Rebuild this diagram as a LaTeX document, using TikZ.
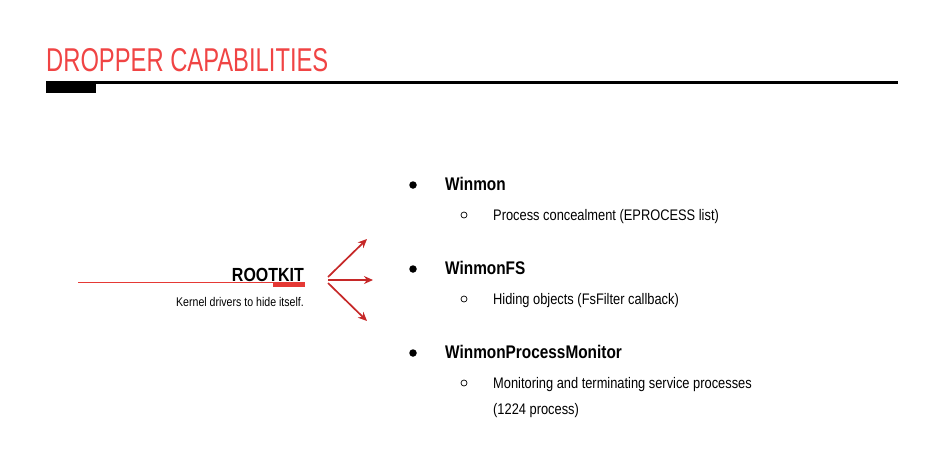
\documentclass[tikz,border=0pt]{standalone}
\usepackage{fontspec}
\setmainfont{Liberation Sans}[FakeStretch=0.84]
\newfontfamily\titleface{Liberation Sans}[FakeStretch=0.72]
\usetikzlibrary{arrows.meta}
\definecolor{titlered}{HTML}{F04444}
\definecolor{arrowred}{HTML}{C62828}
\definecolor{linered}{HTML}{E53935}
\tikzset{
  heading/.style={anchor=base west, inner sep=0pt, text=titlered, font=\titleface\fontsize{33}{36}\selectfont},
  itemhead/.style={anchor=base west, inner sep=0pt, font=\fontsize{18.3}{20}\selectfont\bfseries},
  itemtext/.style={anchor=base west, inner sep=0pt, font=\fontsize{15.3}{18}\selectfont},
  dotbullet/.style={circle, fill=black, inner sep=0pt, minimum size=7.5pt},
  ringbullet/.style={circle, draw=black, line width=0.7pt, inner sep=0pt, minimum size=6pt},
  branch/.style={draw=arrowred, line width=1.7pt, -{Stealth[length=9pt,width=8pt]}},
}
\begin{document}
\begin{tikzpicture}[x=1pt,y=-1pt]
\useasboundingbox (0,0) rectangle (936,448);
% title and rule
\node[heading] (title) at (46,71.5) {DROPPER CAPABILITIES};
\draw[line width=2.2pt] (46,82.5) -- (898,82.5);
\fill[black] (46,82) rectangle (96,93);
% rootkit block
\node[anchor=base east, inner sep=0pt, font=\fontsize{19}{22}\selectfont\bfseries] (rk) at (304,281) {ROOTKIT};
\node[anchor=base east, inner sep=0pt, font=\fontsize{12.6}{14}\selectfont] (rkdesc) at (304,306) {Kernel drivers to hide itself.};
\coordinate (ulstart) at (78,282.5);
\coordinate (ulmid) at (273,282.5);
\draw[linered, line width=1pt] (ulstart) -- (ulmid);
\fill[linered] (273,282) rectangle (305,286.5);
% branching arrows
\coordinate (fork) at (328,280);
\coordinate (up) at (367,239);
\coordinate (mid) at (373,280);
\coordinate (down) at (367,321);
\draw[branch] (328,277) -- (up);
\draw[branch] (fork) -- (mid);
\draw[branch] (328,283) -- (down);
% list
\node[dotbullet] (b1) at (413,185) {};
\node[itemhead] (h1) at (445,190) {Winmon};
\node[ringbullet] (s1) at (464,215) {};
\node[itemtext] (t1) at (493,220) {Process concealment (EPROCESS list)};
\node[dotbullet] (b2) at (413,269) {};
\node[itemhead] (h2) at (445,274) {WinmonFS};
\node[ringbullet] (s2) at (464,299) {};
\node[itemtext] (t2) at (493,304) {Hiding objects (FsFilter callback)};
\node[dotbullet] (b3) at (413,353) {};
\node[itemhead] (h3) at (445,358) {WinmonProcessMonitor};
\node[ringbullet] (s3) at (464,383) {};
\node[itemtext] (t3) at (493,388) {Monitoring and terminating service processes};
\node[itemtext] (t4) at (493,414) {(1224 process)};
\end{tikzpicture}
\end{document}
